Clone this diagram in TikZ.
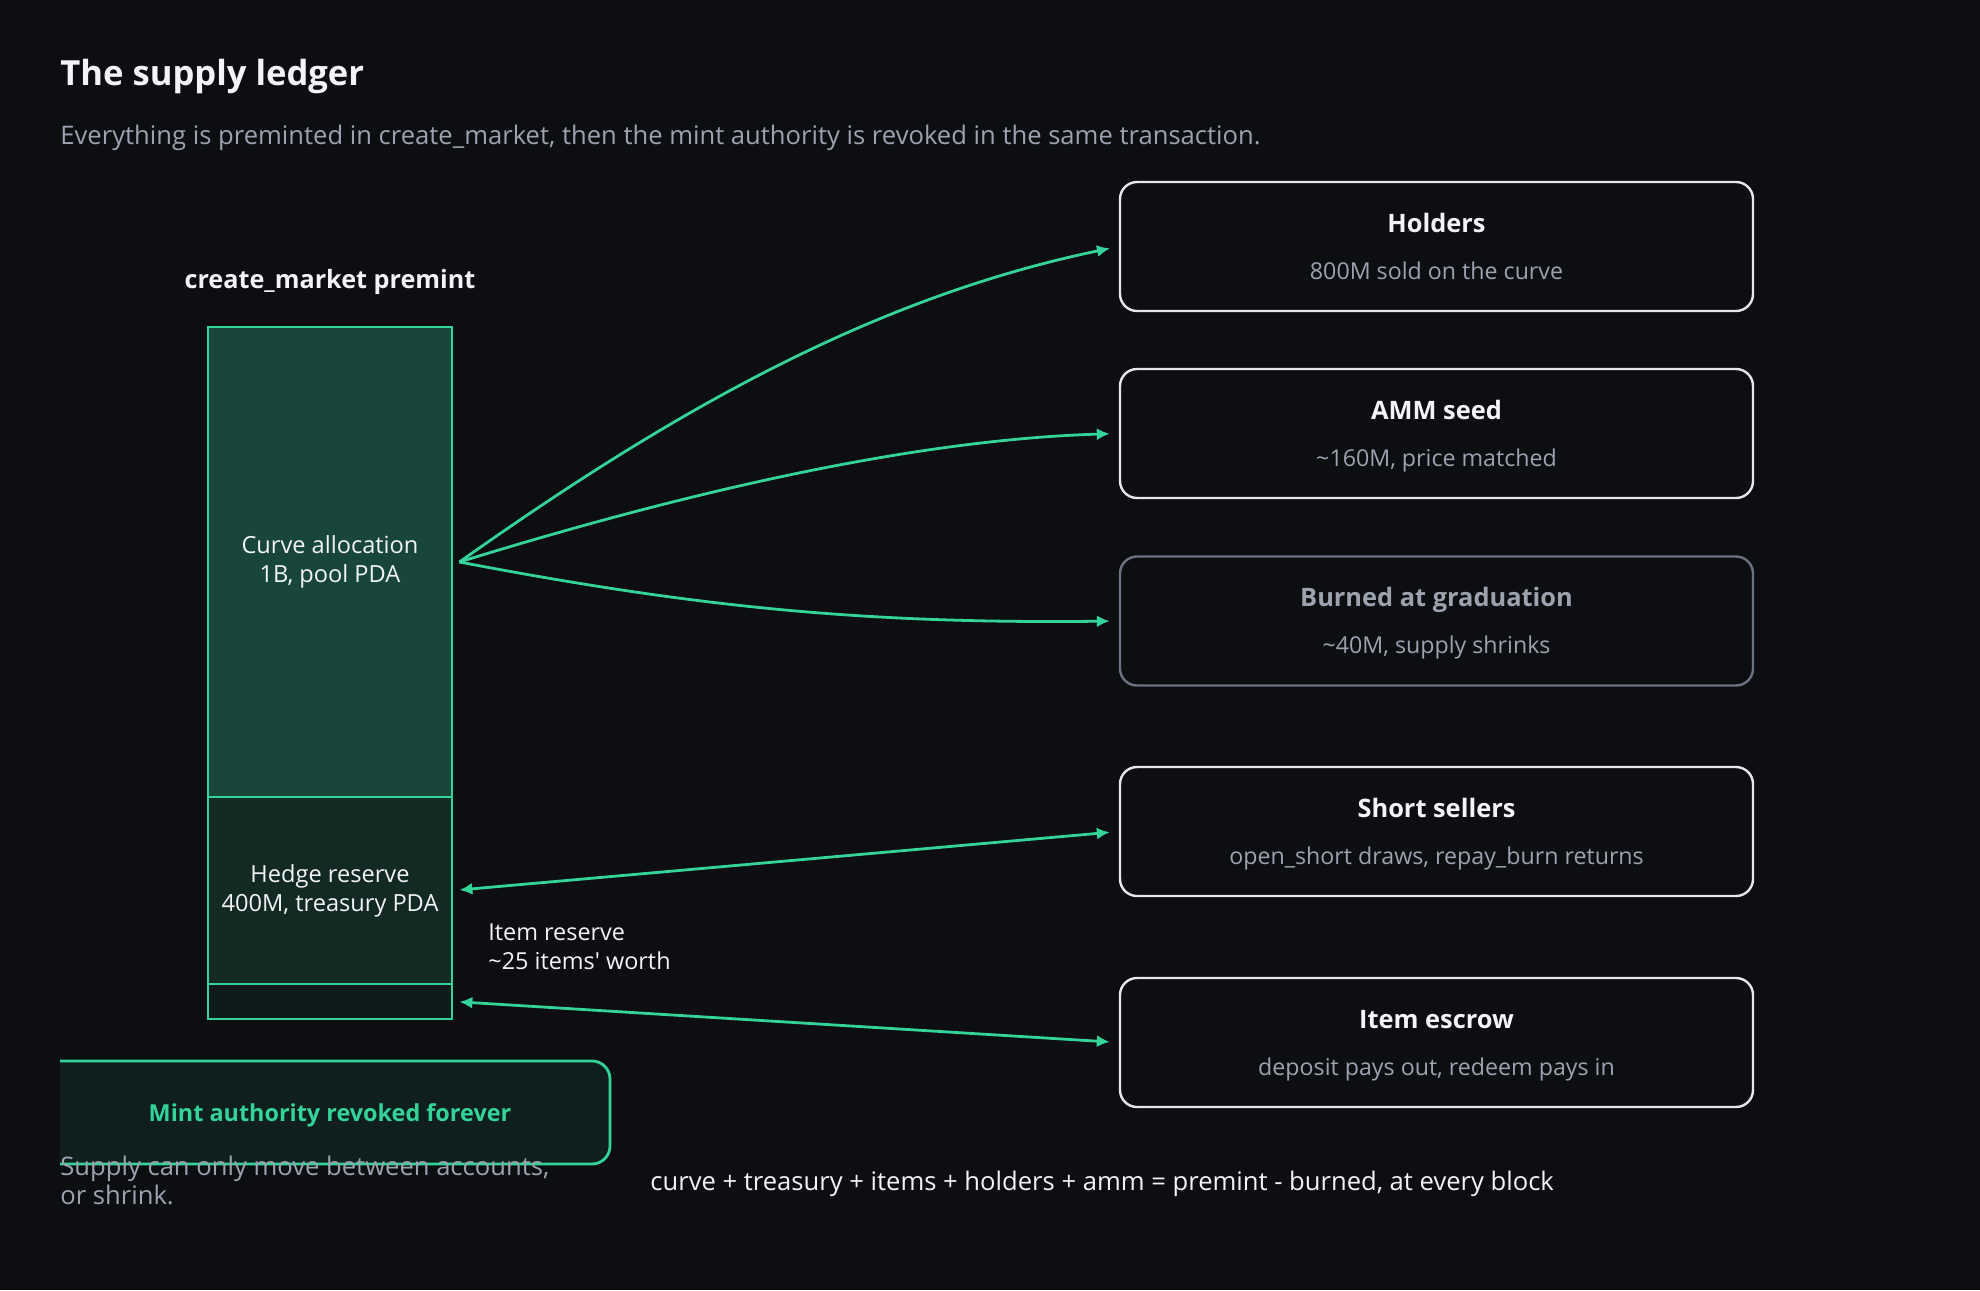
\documentclass[tikz,border=0pt]{standalone}
\usepackage{fontspec}
\setmainfont{Open Sans}
\usepackage{tikz}
\usetikzlibrary{calc,arrows.meta}

\definecolor{bg}{HTML}{0C0E12}
\definecolor{accent}{HTML}{34D399}
\definecolor{curvefill}{HTML}{19463A}
\definecolor{hedgefill}{HTML}{122924}
\definecolor{itemfill}{HTML}{0F1B1B}
\definecolor{mintfill}{HTML}{0F1F1E}
\definecolor{boxline}{HTML}{E5E7EB}
\definecolor{dimline}{HTML}{6B7280}
\definecolor{txt}{HTML}{F3F4F6}
\definecolor{subtxt}{HTML}{9CA3AF}

\tikzset{
	barseg/.style={draw=accent, line width=1.4pt, minimum width=122pt, inner sep=0pt, text=txt, align=center, font=\fontsize{11.8}{14.5}\selectfont},
	sinkbox/.style={line width=1.2pt, rounded corners=8.5pt, minimum width=316.5pt, minimum height=64.5pt, fill=bg},
	sinktitle/.style={anchor=base, font=\bfseries\fontsize{12.7}{16}\selectfont},
	sinksub/.style={anchor=base, text=subtxt, font=\fontsize{11.6}{14}\selectfont},
	flow/.style={draw=accent, line width=1.4pt, -{Latex[length=6.5pt,width=6pt]}},
	twoway/.style={draw=accent, line width=1.4pt, {Latex[length=6.5pt,width=6pt]}-{Latex[length=6.5pt,width=6pt]}},
}

% destination box: [border][title colour](name)(y:title:subtitle)
\def\sink[#1][#2](#3)(#4:#5:#6){%
	\node[sinkbox, draw=#1] (#3) at (1436.5, #4) {};
	\node[sinktitle, text=#2] (#3-t) at ($(#3.center)+(0,-14.5)$) {#5};
	\node[sinksub] (#3-s) at ($(#3.center)+(0,32.5)$) {#6};
}

\begin{document}
\begin{tikzpicture}[x=0.5pt, y=-0.5pt]
		%%%%% START %%%%%
		
		\fill[bg] (0, 0) rectangle (1980, 1290);
		
		\node[anchor=base west, inner sep=0pt, text=txt, font=\bfseries\fontsize{17.3}{20}\selectfont] (title) at (60, 85) {The supply ledger};
		\node[anchor=base west, inner sep=0pt, text=subtxt, font=\fontsize{12.8}{15}\selectfont] (lede) at (60, 144) {Everything is preminted in create\_market, then the mint authority is revoked in the same transaction.};
		
		% premint stack
		\node[anchor=base, text=txt, font=\bfseries\fontsize{12.6}{15}\selectfont] (stackhead) at (330, 288) {create\_market premint};
		\node[barseg, fill=curvefill, minimum height=235pt] (curve) at (330, 562) {Curve allocation\\1B, pool PDA};
		\node[barseg, fill=hedgefill, minimum height=93.5pt] (hedge) at (330, 890.5) {Hedge reserve\\400M, treasury PDA};
		\node[barseg, fill=itemfill, minimum height=17.5pt] (itemres) at (330, 1001.5) {};
		\node[anchor=base west, inner sep=0pt, align=left, text=txt, font=\fontsize{11.7}{14.5}\selectfont] (itemlbl) at (488, 969) {Item reserve\\\textasciitilde 25 items\textquotesingle{} worth};
		
		% destinations
		\sink[boxline][txt](holders)(246.5:Holders:800M sold on the curve)
		\sink[boxline][txt](amm)(433.5:AMM seed:\textasciitilde 160M, price matched)
		\sink[dimline][subtxt](burned)(621:Burned at graduation:\textasciitilde 40M, supply shrinks)
		\sink[boxline][txt](short)(831.5:Short sellers:open\_short draws, repay\_burn returns)
		\sink[boxline][txt](escrow)(1042.5:Item escrow:deposit pays out, redeem pays in)
		
		\coordinate (fan) at ($(curve.east)+(6, 0)$);
		\draw[flow, shorten >=4.5pt] (fan) .. controls (663, 418) and (866, 299) .. (holders.west);
		\draw[flow, shorten >=4.5pt] (fan) .. controls (660, 500) and (900, 440) .. (amm.west);
		\draw[flow, shorten >=4.5pt] (fan) .. controls (690, 606) and (860, 624) .. (burned.west);
		\draw[twoway, shorten <=3pt, shorten >=4.5pt] (hedge.east) -- (short.west);
		\draw[twoway, shorten <=3pt, shorten >=4.5pt] (itemres.east) -- (escrow.west);
		
		% mint revoked
		\draw[draw=accent, fill=mintfill, line width=1.4pt, rounded corners=9pt] (60, 1061) -- (610, 1061) -- (610, 1164) -- (60, 1164);
		\node[anchor=base, text=accent, font=\bfseries\fontsize{11.7}{15}\selectfont] (mint) at (330, 1121) {Mint authority revoked forever};
		\node[anchor=base west, inner sep=0pt, align=left, text=subtxt, font=\fontsize{12.8}{14.5}\selectfont] (supply) at (60, 1204) {Supply can only move between accounts,\\or shrink.};
		
		\node[anchor=base west, inner sep=0pt, text=txt, font=\fontsize{12.8}{15}\selectfont] (ledger) at (650, 1190) {curve + treasury + items + holders + amm = premint - burned, at every block};
		
		%%%%% END %%%%%
	\end{tikzpicture}
\end{document}
